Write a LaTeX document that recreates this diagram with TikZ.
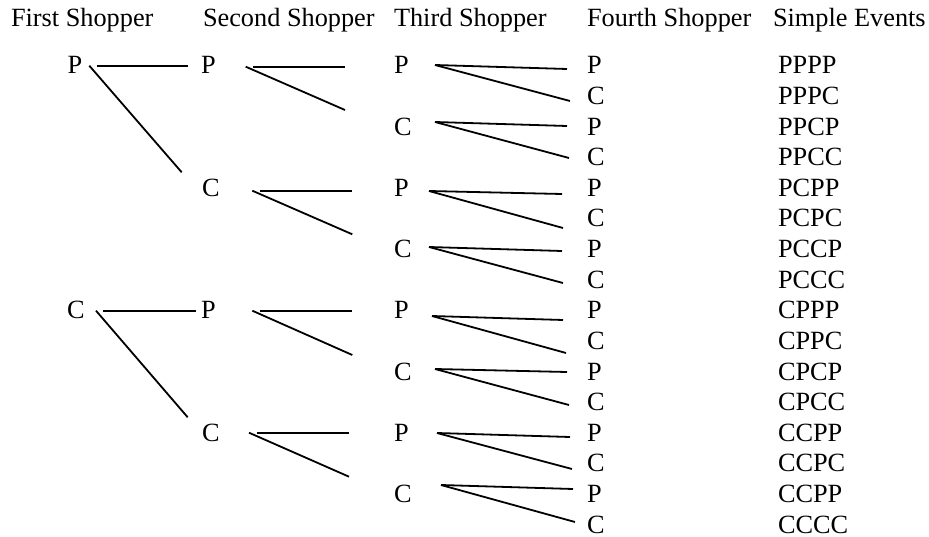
\documentclass[tikz,border=0pt]{standalone}
\usepackage{fontspec}
\setmainfont{Liberation Serif}
\begin{document}
\begin{tikzpicture}[x=1pt,y=-1pt,
  lbl/.style={anchor=base west,inner sep=0pt,outer sep=0pt,font=\fontsize{26.3}{30}\selectfont},
  br/.style={line width=1.8pt,line cap=butt}]
\useasboundingbox (0,0) rectangle (929,537);
% headers
\node[lbl] (h1) at (11,27) {First Shopper};
\node[lbl] (h2) at (203,27) {Second Shopper};
\node[lbl] (h3) at (394,27) {Third Shopper};
\node[lbl] (h4) at (587,27) {Fourth Shopper};
\node[lbl] (h5) at (773,27) {Simple Events};
% first shopper
\node[lbl] (a1) at (67.7,74) {P};
\node[lbl] (a2) at (67,{74+8*30.6}) {C};
% second shopper
\node[lbl] (b1) at (201,74) {P};
\node[lbl] (b2) at (202,{74+4*30.6}) {C};
\node[lbl] (b3) at (201,{74+8*30.6}) {P};
\node[lbl] (b4) at (202,{74+12*30.6}) {C};
% third shopper
\foreach \k/\l in {1/P,2/C,3/P,4/C,5/P,6/C,7/P,8/C}
  \node[lbl] (c\k) at (394,{74+(2*\k-2)*30.6}) {\l};
% fourth shopper and simple events
\foreach \i/\l/\ev in {1/P/PPPP,2/C/PPPC,3/P/PPCP,4/C/PPCC,5/P/PCPP,6/C/PCPC,7/P/PCCP,8/C/PCCC,
  9/P/CPPP,10/C/CPPC,11/P/CPCP,12/C/CPCC,13/P/CCPP,14/C/CCPC,15/P/CCPP,16/C/CCCC}{
  \node[lbl] (d\i) at (587,{74+(\i-1)*30.6}) {\l};
  \node[lbl] (e\i) at (778,{74+(\i-1)*30.6}) {\ev};
}
% branches: diag start, horiz start, horiz end, diag end
\foreach \n/\dsx/\dsy/\hsx/\hsy/\hex/\hey/\dex/\dey in {
  f1/89.3/65.7/96.7/65.7/188.3/65.7/181.7/172.3,
  f2/96/310.7/103.3/310.7/196/310.7/187.7/417.3,
  g1/245.7/66.7/253.3/66.7/345/66.7/345/110,
  g2/252.3/190.7/260/190.7/352.3/190.7/352.3/234.3,
  g3/252.3/310.7/260/310.7/352.3/310.7/352.3/355,
  g4/249/432.7/256.7/432.7/349/432.7/349/476.7,
  k1/435/65/435/65/567/69/570/101,
  k2/435/122/435/122/567/126/569/158,
  k3/429/191/429/191/562/194/563/228,
  k4/429/247/429/247/562/251/563/283,
  k5/432/316/432/316/563/320/566/353,
  k6/435/369/435/369/567/372/569/405,
  k7/437/433/437/433/570/437/572/469,
  k8/441/485/441/485/573/489/575/522}{
  \coordinate (\n ds) at (\dsx,\dsy);
  \coordinate (\n hs) at (\hsx,\hsy);
  \coordinate (\n he) at (\hex,\hey);
  \coordinate (\n de) at (\dex,\dey);
  \draw[br] (\n hs) -- (\n he);
  \draw[br] (\n ds) -- (\n de);
}
\end{tikzpicture}
\end{document}
